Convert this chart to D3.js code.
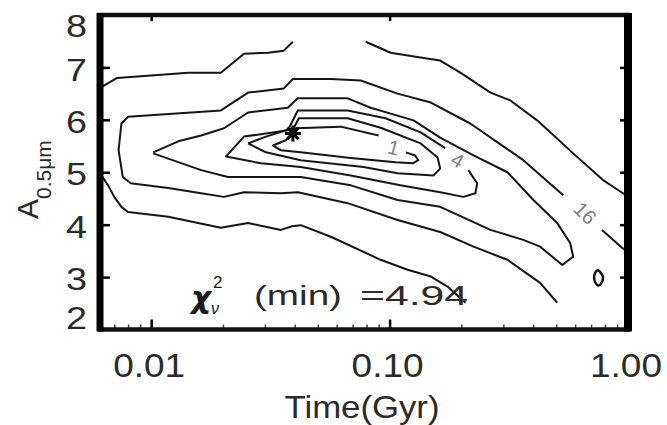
<!DOCTYPE html>
<html lang="en">
<head>
<meta charset="UTF-8">
<title>chi2 contours</title>
<script src="https://cdn.jsdelivr.net/npm/d3@7/dist/d3.min.js"></script>
<style>
  body { margin: 0; background: #fff; }
  text { font-family: "Liberation Sans", Arial, sans-serif; fill: #1a1a1a; }
</style>
</head>
<body>
<script>
// contours, points are [time (Gyr), A_0.5um]
var c1 = [[0.117,5.38],[0.128,5.32],[0.132,5.23],[0.125,5.17],[0.106,5.19],[0.0687,5.27],[0.0424,5.38],[0.035,5.42],[0.0324,5.51],[0.0367,5.61],[0.0405,5.84],[0.0624,5.87],[0.0899,5.70]];
var c2 = [[0.0255,5.55],[0.0303,5.68],[0.0397,5.85],[0.0416,6.03],[0.0667,6.03],[0.0917,5.85],[0.135,5.55],[0.159,5.28],[0.163,5.07],[0.153,4.94],[0.108,4.98],[0.0778,5.10],[0.0424,5.23],[0.0303,5.38],[0.0255,5.55]];
var c4 = [[0.214,5.04],[0.233,4.79],[0.229,4.60],[0.204,4.53],[0.163,4.62],[0.111,4.75],[0.0687,4.94],[0.0424,5.10],[0.0289,5.17],[0.0206,5.30],[0.0245,5.68],[0.0374,5.80],[0.0397,6.03],[0.0412,6.18],[0.0667,6.18],[0.0962,6.03],[0.135,5.76],[0.171,5.46]];
var c8 = [[0.0102,5.38],[0.0130,5.59],[0.0162,5.70],[0.0202,5.84],[0.0255,6.14],[0.0374,6.23],[0.0412,6.41],[0.0667,6.41],[0.0833,6.23],[0.126,5.99],[0.163,5.66],[0.225,5.32],[0.312,5.00],[0.401,4.47],[0.505,4.03],[0.572,3.65],[0.589,3.39],[0.530,3.23],[0.428,3.58],[0.364,3.71],[0.265,3.90],[0.163,4.34],[0.108,4.47],[0.0688,4.75],[0.0424,4.91],[0.0210,4.91],[0.0162,5.04],[0.0102,5.36]];
var c16a = [[0.505,2.51],[0.428,2.89],[0.312,3.33],[0.225,3.58],[0.163,3.86],[0.108,4.09],[0.0667,4.41],[0.0412,4.62],[0.035,4.60],[0.0245,4.62],[0.0202,4.53],[0.0162,4.60],[0.0118,4.70],[0.0082,4.79],[0.0076,4.91],[0.0073,5.42],[0.0075,5.93],[0.0080,6.06],[0.0196,6.18],[0.0255,6.52],[0.036,6.60],[0.0393,6.78],[0.0567,6.78],[0.0757,6.75],[0.108,6.50],[0.149,6.33],[0.218,5.93],[0.364,5.23],[0.535,4.56]];
var c16b = [[0.778,3.90],[0.944,3.56],[1.0,3.48]];
var c32a = [[0.0061,6.61],[0.0072,6.80],[0.0143,6.90],[0.0196,6.90],[0.0245,7.26],[0.0309,7.28],[0.036,7.32],[0.0393,7.49]];
var c32b = [[0.0794,7.49],[0.101,7.28],[0.139,7.18],[0.163,7.13],[0.198,6.90],[0.265,6.52],[0.321,6.37],[0.416,5.99],[0.589,5.36],[0.786,4.85],[0.953,4.60],[1.0,4.54]];
var c32c = [[0.0061,4.98],[0.0066,4.75],[0.0070,4.53],[0.0075,4.34],[0.0080,4.24],[0.0118,4.15],[0.0196,3.94],[0.0255,4.03],[0.035,3.90],[0.039,3.97],[0.0424,3.99],[0.0567,3.77],[0.0917,3.33],[0.119,3.14],[0.149,3.01],[0.175,2.82],[0.208,2.51]];
var cLoop = [[0.748,3.13],[0.772,3.07],[0.786,2.99],[0.772,2.88],[0.748,2.84],[0.728,2.90],[0.721,2.99],[0.728,3.08]];

var bestFit = [0.0393, 5.74];
var chiMin = "4.94";

var levelLabels = ["1", "4", "16"];
var levelLabelPos = [[0.104,5.47],[0.193,5.23],[0.661,4.22]];

var xTicks = [0.01, 0.1, 1];
var xTickLabels = ["0.01", "0.10", "1.00"];
var xMinor = [0.007,0.008,0.009,0.02,0.03,0.04,0.05,0.06,0.07,0.08,0.09,0.2,0.3,0.4,0.5,0.6,0.7,0.8,0.9];
var yTicks = [2, 3, 4, 5, 6, 7, 8];

var w = 667, h = 425;
var pL = 100, pR = 628, pT = 15, pB = 329.5;

var svg = d3.select("body").append("svg")
    .attr("width", w)
    .attr("height", h);

var x = d3.scaleLog().domain([0.0061, 1]).range([pL, pR]);
var y = d3.scaleLinear().domain([2, 8]).range([pB, pT]);

svg.append("clipPath").attr("id", "plot")
    .append("rect")
    .attr("x", pL).attr("y", pT)
    .attr("width", pR - pL).attr("height", pB - pT);

var line = d3.line()
    .x(function (d) { return x(d[0]); })
    .y(function (d) { return y(d[1]); });

var segments = [c1, c2, c4, c8, c16a, c16b, c32a, c32b, c32c];

var g = svg.append("g").attr("clip-path", "url(#plot)");

g.selectAll("path.contour")
    .data(segments)
    .enter()
    .append("path")
    .attr("class", "contour")
    .attr("d", line)
    .attr("fill", "none")
    .attr("stroke", "#151515")
    .attr("stroke-width", 2)
    .attr("stroke-linejoin", "round");

g.append("path")
    .attr("d", line.curve(d3.curveCardinalClosed)(cLoop))
    .attr("fill", "none")
    .attr("stroke", "#151515")
    .attr("stroke-width", 2.5);
line.curve(d3.curveLinear);

// contour level labels
var lblRot = [15, 30, 45];
g.selectAll("text.lvl")
    .data(levelLabels)
    .enter()
    .append("text")
    .attr("class", "lvl")
    .attr("transform", function (d, i) {
        return "translate(" + x(levelLabelPos[i][0]) + "," + y(levelLabelPos[i][1]) + ") rotate(" + lblRot[i] + ")";
    })
    .attr("text-anchor", "middle")
    .attr("dy", "0.35em")
    .style("font-size", "20px")
    .style("fill", "#808080")
    .text(function (d) { return d; });

// best fit marker
var bx = x(bestFit[0]), by = y(bestFit[1]);
[0, 45, 90, 135].forEach(function (a) {
    var r = a * Math.PI / 180, s = 8;
    g.append("line")
        .attr("x1", bx - s * Math.cos(r)).attr("y1", by - s * Math.sin(r))
        .attr("x2", bx + s * Math.cos(r)).attr("y2", by + s * Math.sin(r))
        .attr("stroke", "#000")
        .attr("stroke-width", 3);
});

// ticks
var axG = svg.append("g");
axG.append("g").attr("class", "major").attr("transform", "translate(0," + pB + ")")
    .call(d3.axisBottom(x).tickValues(xTicks).tickSizeInner(-10).tickSizeOuter(0).tickFormat(""));
axG.append("g").attr("class", "minor").attr("transform", "translate(0," + pB + ")")
    .call(d3.axisBottom(x).tickValues(xMinor).tickSizeInner(-5).tickSizeOuter(0).tickFormat(""));
axG.append("g").attr("class", "major").attr("transform", "translate(0," + pT + ")")
    .call(d3.axisTop(x).tickValues(xTicks).tickSizeInner(-6).tickSizeOuter(0).tickFormat(""));
axG.append("g").attr("class", "major").attr("transform", "translate(" + pL + ",0)")
    .call(d3.axisLeft(y).tickValues(yTicks.slice(1, -1)).tickSizeInner(-10).tickSizeOuter(0).tickFormat(""));
axG.append("g").attr("class", "major").attr("transform", "translate(" + pR + ",0)")
    .call(d3.axisRight(y).tickValues(yTicks.slice(1, -1)).tickSizeInner(-8).tickSizeOuter(0).tickFormat(""));
axG.selectAll(".domain").remove();
axG.selectAll(".major .tick line").attr("stroke", "#000").attr("stroke-width", 2.5);
axG.selectAll(".minor .tick line").attr("stroke", "#444").attr("stroke-width", 1.5);

// frame, the side lines are heavier in the figure
svg.append("rect")
    .attr("x", pL).attr("y", pT)
    .attr("width", pR - pL).attr("height", pB - pT)
    .attr("fill", "none").attr("stroke", "#111").attr("stroke-width", 4.5);
svg.append("line").attr("x1", pL).attr("x2", pL).attr("y1", pT - 2).attr("y2", pB + 2)
    .attr("stroke", "#000").attr("stroke-width", 7);
svg.append("line").attr("x1", pR).attr("x2", pR).attr("y1", pT - 2).attr("y2", pB + 2)
    .attr("stroke", "#000").attr("stroke-width", 8);

// tick labels
svg.selectAll("text.xl")
    .data(xTicks)
    .enter()
    .append("text")
    .attr("class", "xl")
    .attr("x", function (d) { return x(d) - 2; })
    .attr("y", 377)
    .attr("text-anchor", "middle")
    .attr("textLength", 72)
    .attr("lengthAdjust", "spacingAndGlyphs")
    .style("font-size", "33px")
    .style("fill", "#2a2a2a")
    .text(function (d, i) { return xTickLabels[i]; });

svg.selectAll("text.yl")
    .data(yTicks)
    .enter()
    .append("text")
    .attr("class", "yl")
    .attr("x", 87)
    .attr("y", function (d) { return Math.max(26, Math.min(318, y(d) + 2)); })
    .attr("dy", "0.36em")
    .attr("text-anchor", "end")
    .attr("textLength", 21)
    .attr("lengthAdjust", "spacingAndGlyphs")
    .style("font-size", "31px")
    .style("fill", "#2a2a2a")
    .text(function (d) { return d; });

// axis titles
svg.append("text")
    .attr("x", 362).attr("y", 418)
    .attr("text-anchor", "middle")
    .attr("textLength", 155)
    .attr("lengthAdjust", "spacingAndGlyphs")
    .style("font-size", "32px")
    .style("fill", "#2a2a2a")
    .text("Time(Gyr)");

var yt = svg.append("text")
    .attr("transform", "translate(38,219) rotate(-90)")
    .style("font-size", "30px")
    .style("fill", "#2a2a2a");
yt.append("tspan").text("A");
yt.append("tspan").attr("dy", 13).style("font-size", "21px").text("0.5\u03bcm");

// chi2 annotation
svg.append("text").attr("x", 191).attr("y", 308)
    .style("font-size", "31px").style("font-style", "italic")
    .style("font-family", "'DejaVu Sans', sans-serif")
    .style("font-weight", "bold")
    .text("\u03c7");
svg.append("text").attr("x", 213).attr("y", 288)
    .style("font-size", "17px").text("2");
svg.append("text").attr("x", 211).attr("y", 314)
    .style("font-size", "16px").style("font-style", "italic").text("\u03bd");
svg.append("text").attr("x", 254).attr("y", 305)
    .attr("textLength", 88).attr("lengthAdjust", "spacingAndGlyphs")
    .style("font-size", "27px").style("fill", "#2a2a2a").text("(min)");
svg.append("text").attr("x", 360).attr("y", 305)
    .attr("textLength", 108).attr("lengthAdjust", "spacingAndGlyphs")
    .style("font-size", "27px").style("fill", "#2a2a2a").text("=" + chiMin);
</script>
</body>
</html>
